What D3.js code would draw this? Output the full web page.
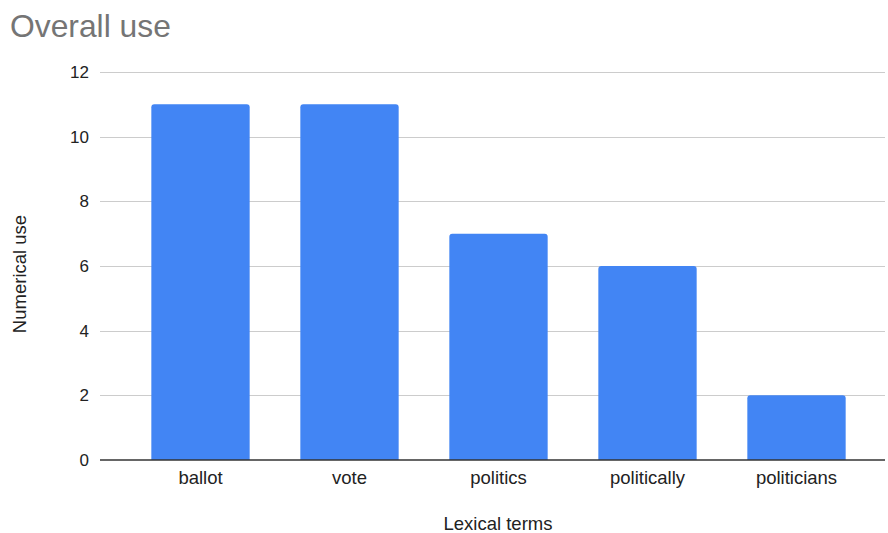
<!DOCTYPE html>
<html>
<head>
<meta charset="utf-8">
<script src="https://cdn.jsdelivr.net/npm/d3@7"></script>
<style>
  body { margin: 0; background: #fff; }
  text { font-family: "Liberation Sans", Arial, sans-serif; }
</style>
</head>
<body>
<svg id="chart" width="888" height="533"></svg>
<script>
const terms = ['ballot', 'vote', 'politics', 'politically', 'politicians'];
const uses = [11, 11, 7, 6, 2];
const yTicks = [0, 2, 4, 6, 8, 10, 12];

const svg = d3.select('#chart');

// chart area
const plotLeft = 100, plotRight = 885, plotTop = 72, plotBottom = 460;

const x = d3.scaleBand()
  .domain(terms)
  .range([126, 871])
  .paddingInner(0.34)
  .paddingOuter(0.17);

const y = d3.scaleLinear()
  .domain([0, 12])
  .range([plotBottom, plotTop]);

// title
svg.append('text')
  .attr('x', 10)
  .attr('y', 37)
  .style('font-size', '31.8px')
  .style('fill', '#757575')
  .text('Overall use');

// gridlines
svg.append('g')
  .selectAll('line')
  .data(yTicks.filter(d => d > 0))
  .join('line')
  .attr('x1', plotLeft)
  .attr('x2', plotRight)
  .attr('y1', d => Math.round(y(d)) + 0.5)
  .attr('y2', d => Math.round(y(d)) + 0.5)
  .attr('stroke', '#cccccc')
  .attr('stroke-width', 1);

// y tick labels
svg.append('g')
  .selectAll('text')
  .data(yTicks)
  .join('text')
  .attr('x', 89)
  .attr('y', d => y(d) + 6)
  .attr('text-anchor', 'end')
  .style('font-size', '17px')
  .style('fill', '#222')
  .text(d => d);

// bars with rounded top corners
const r = 3;
function barPath(d) {
  const x0 = x(d.term), w = x.bandwidth();
  const y0 = y(d.value), y1 = y(0);
  return `M${x0},${y1}V${y0 + r}Q${x0},${y0} ${x0 + r},${y0}` +
    `H${x0 + w - r}Q${x0 + w},${y0} ${x0 + w},${y0 + r}V${y1}Z`;
}

svg.append('g')
  .selectAll('path')
  .data(terms.map((t, i) => ({term: t, value: uses[i]})))
  .join('path')
  .attr('d', barPath)
  .attr('fill', '#4285f4');

// baseline
svg.append('line')
  .attr('x1', plotLeft)
  .attr('x2', plotRight)
  .attr('y1', y(0))
  .attr('y2', y(0))
  .attr('stroke', '#333333')
  .attr('stroke-width', 1.5);

// x labels
svg.append('g')
  .selectAll('text')
  .data(terms)
  .join('text')
  .attr('x', d => x(d) + x.bandwidth() / 2)
  .attr('y', 484)
  .attr('text-anchor', 'middle')
  .style('font-size', '18.5px')
  .style('fill', '#222')
  .text(d => d);

// axis titles
svg.append('text')
  .attr('x', 498)
  .attr('y', 530)
  .attr('text-anchor', 'middle')
  .style('font-size', '18.5px')
  .style('fill', '#222')
  .text('Lexical terms');

svg.append('text')
  .attr('transform', `translate(26, 274) rotate(-90)`)
  .attr('text-anchor', 'middle')
  .style('font-size', '18.5px')
  .style('fill', '#222')
  .text('Numerical use');
</script>
</body>
</html>
